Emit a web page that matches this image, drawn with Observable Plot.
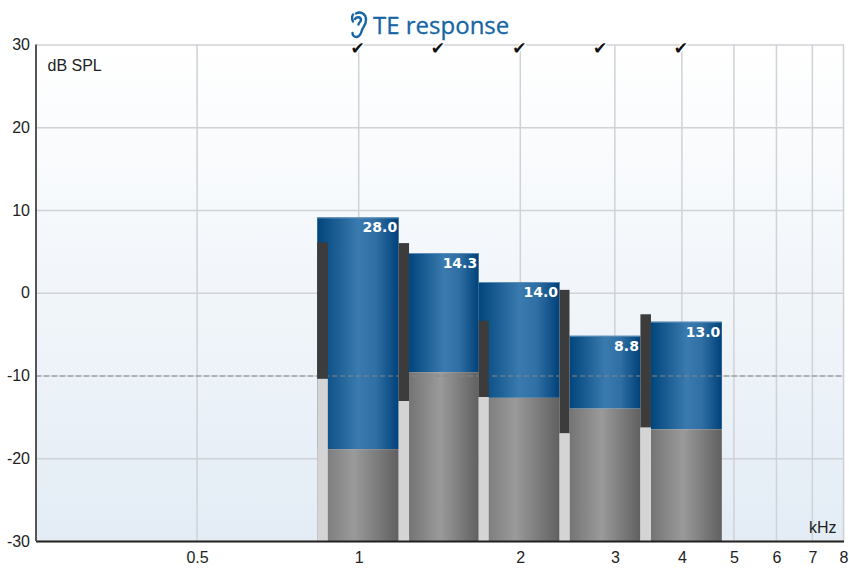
<!DOCTYPE html>
<html>
<head>
<meta charset="utf-8">
<script src="https://cdn.jsdelivr.net/npm/d3@7"></script>
<script src="https://cdn.jsdelivr.net/npm/@observablehq/plot@0.6"></script>
<style>
html,body{margin:0;padding:0;background:#fff;}
#wrap{position:relative;width:849px;height:568px;overflow:hidden;}
#title{position:absolute;left:351px;top:14px;height:22px;display:flex;align-items:center;gap:5px;font:24px "Open Sans",sans-serif;color:#1565a6;-webkit-text-stroke:0.3px #1565a6;white-space:nowrap;line-height:22px;z-index:2;}
</style>
</head>
<body>
<div id="wrap">
<div id="title"><svg width="17" height="28" viewBox="0 0 17 28"><path d="M6 26c-3.500 0-4.500-2-4.500-4M5 2.500c5-2.500 10 .5 10 6.500 0 5-3 7-4 10-.8 2.800-1.500 6-5 7M4 8c1-2.500 6-2.500 6 1 0 2-2.500 2.500-2.500 4.500M2 3.500C.5 6 1 8.500 2 10.500" fill="none" stroke="#1565a6" stroke-width="2.400" stroke-linecap="round"/></svg><span>TE response</span></div>
<div id="chart"></div>
</div>
<script>
const bandLow    = [0.837, 1.241, 1.673, 2.470, 3.503];
const bandHigh   = [1.187, 1.673, 2.367, 3.348, 4.747];
const noiseLow   = [0.837, 1.187, 1.673, 2.367, 3.348];
const noiseHigh  = [0.876, 1.241, 1.747, 2.470, 3.503];
const responseTop = [9.1, 4.8, 1.3, -5.2, -3.5];
const signalFloor = [-18.9, -9.6, -12.7, -14.0, -16.5];
const noiseTop    = [6.1, 6.0, -3.4, 0.35, -2.6];
const noiseBottom = [-10.4, -13.1, -12.6, -17.0, -16.3];
const snrLabels   = ["28.0", "14.3", "14.0", "8.8", "13.0"];
const passFreqs   = [1, 1.41, 2, 2.83, 4];
const xTicks = [0.5, 1, 2, 3, 4, 5, 6, 7, 8];
const yTicks = [-30, -20, -10, 0, 10, 20, 30];
const referenceLevel = -10;
const yMin = -30, yMax = 30;

const bars = bandLow.map((lo, i) => ({lo, hi: bandHigh[i], top: responseTop[i], floor: signalFloor[i], label: snrLabels[i]}));
const noise = noiseLow.map((lo, i) => ({lo, hi: noiseHigh[i], top: noiseTop[i], bottom: noiseBottom[i]}));
const labelFont = {fontSize: 16, fill: "#222", fontFamily: "Liberation Sans"};

const plot = Plot.plot({
  width: 849, height: 568,
  marginLeft: 36, marginRight: 5, marginTop: 44.5, marginBottom: 27,
  style: {background: "transparent", overflow: "visible"},
  x: {type: "log", domain: [0.25, 8], range: [35.5, 843.5], axis: null},
  y: {domain: [yMin, yMax], axis: null},
  marks: [
    Plot.frame({fill: "url(#bgGrad)", stroke: null}),
    Plot.ruleY(yTicks, {stroke: "#cfd2d6", strokeWidth: 1.5}),
    Plot.ruleX(xTicks, {stroke: "#cfd2d6", strokeWidth: 1.5, dx: -0.5}),
    Plot.text(passFreqs, {x: d => d, y: yMax, lineAnchor: "middle", dy: 3.5, dx: -1.5, text: () => "✔", fontSize: 17, fill: "#111", stroke: "#fff", strokeWidth: 3, fontFamily: "DejaVu Sans"}),
    Plot.rect(bars, {x1: "lo", x2: "hi", y1: "floor", y2: "top", fill: "url(#blueGrad)"}),
    Plot.rect(bars, {x1: "lo", x2: "hi", y1: yMin, y2: "floor", fill: "url(#grayGrad)"}),
    Plot.ruleY(bars, {x1: "lo", x2: "hi", y: "top", stroke: "#5f90b8", strokeWidth: 1}),
    Plot.ruleY([referenceLevel], {stroke: "#858585", strokeWidth: 1.2, strokeDasharray: "5,3"}),
    Plot.rect(noise, {x1: "lo", x2: "hi", y1: "bottom", y2: "top", fill: "#3c3c3c"}),
    Plot.rect(noise, {x1: "lo", x2: "hi", y1: yMin, y2: "bottom", fill: "#d4d4d4"}),
    Plot.text(bars, {x: "hi", y: "top", text: "label", textAnchor: "end", dx: -2, dy: 10, fill: "#fff", fontWeight: "bold", fontSize: 14, fontFamily: "DejaVu Sans"}),
    Plot.ruleY([yMin], {stroke: "#222", strokeWidth: 2}),
    Plot.ruleX([0.25], {stroke: "#555", strokeWidth: 2}),
    Plot.text(xTicks, {x: d => d, y: yMin, dy: 16, text: d => String(d), ...labelFont}),
    Plot.text(yTicks, {y: d => d, x: 0.25, dx: -6, textAnchor: "end", text: d => String(d), ...labelFont}),
    Plot.text(["dB SPL"], {frameAnchor: "top-left", dx: 11, dy: 15, ...labelFont}),
    Plot.text(["kHz"], {frameAnchor: "bottom-right", dx: -8, dy: -9, ...labelFont})
  ]
});

const defs = d3.select(plot).insert("defs", ":first-child");
function grad(id, vertical, stops) {
  const g = defs.append("linearGradient").attr("id", id).attr("x1", 0).attr("y1", 0)
    .attr("x2", vertical ? 0 : 1).attr("y2", vertical ? 1 : 0);
  stops.forEach(([o, c]) => g.append("stop").attr("offset", o).attr("stop-color", c));
}
grad("bgGrad", true, [[0, "#ffffff"], [1, "#e3ecf5"]]);
grad("blueGrad", false, [[0, "#00457c"], [0.5, "#3a7aae"], [0.72, "#2f6fa3"], [1, "#00417a"]]);
grad("grayGrad", false, [[0, "#747474"], [0.45, "#9a9a9a"], [1, "#606060"]]);
document.getElementById("chart").appendChild(plot);
</script>
</body>
</html>
